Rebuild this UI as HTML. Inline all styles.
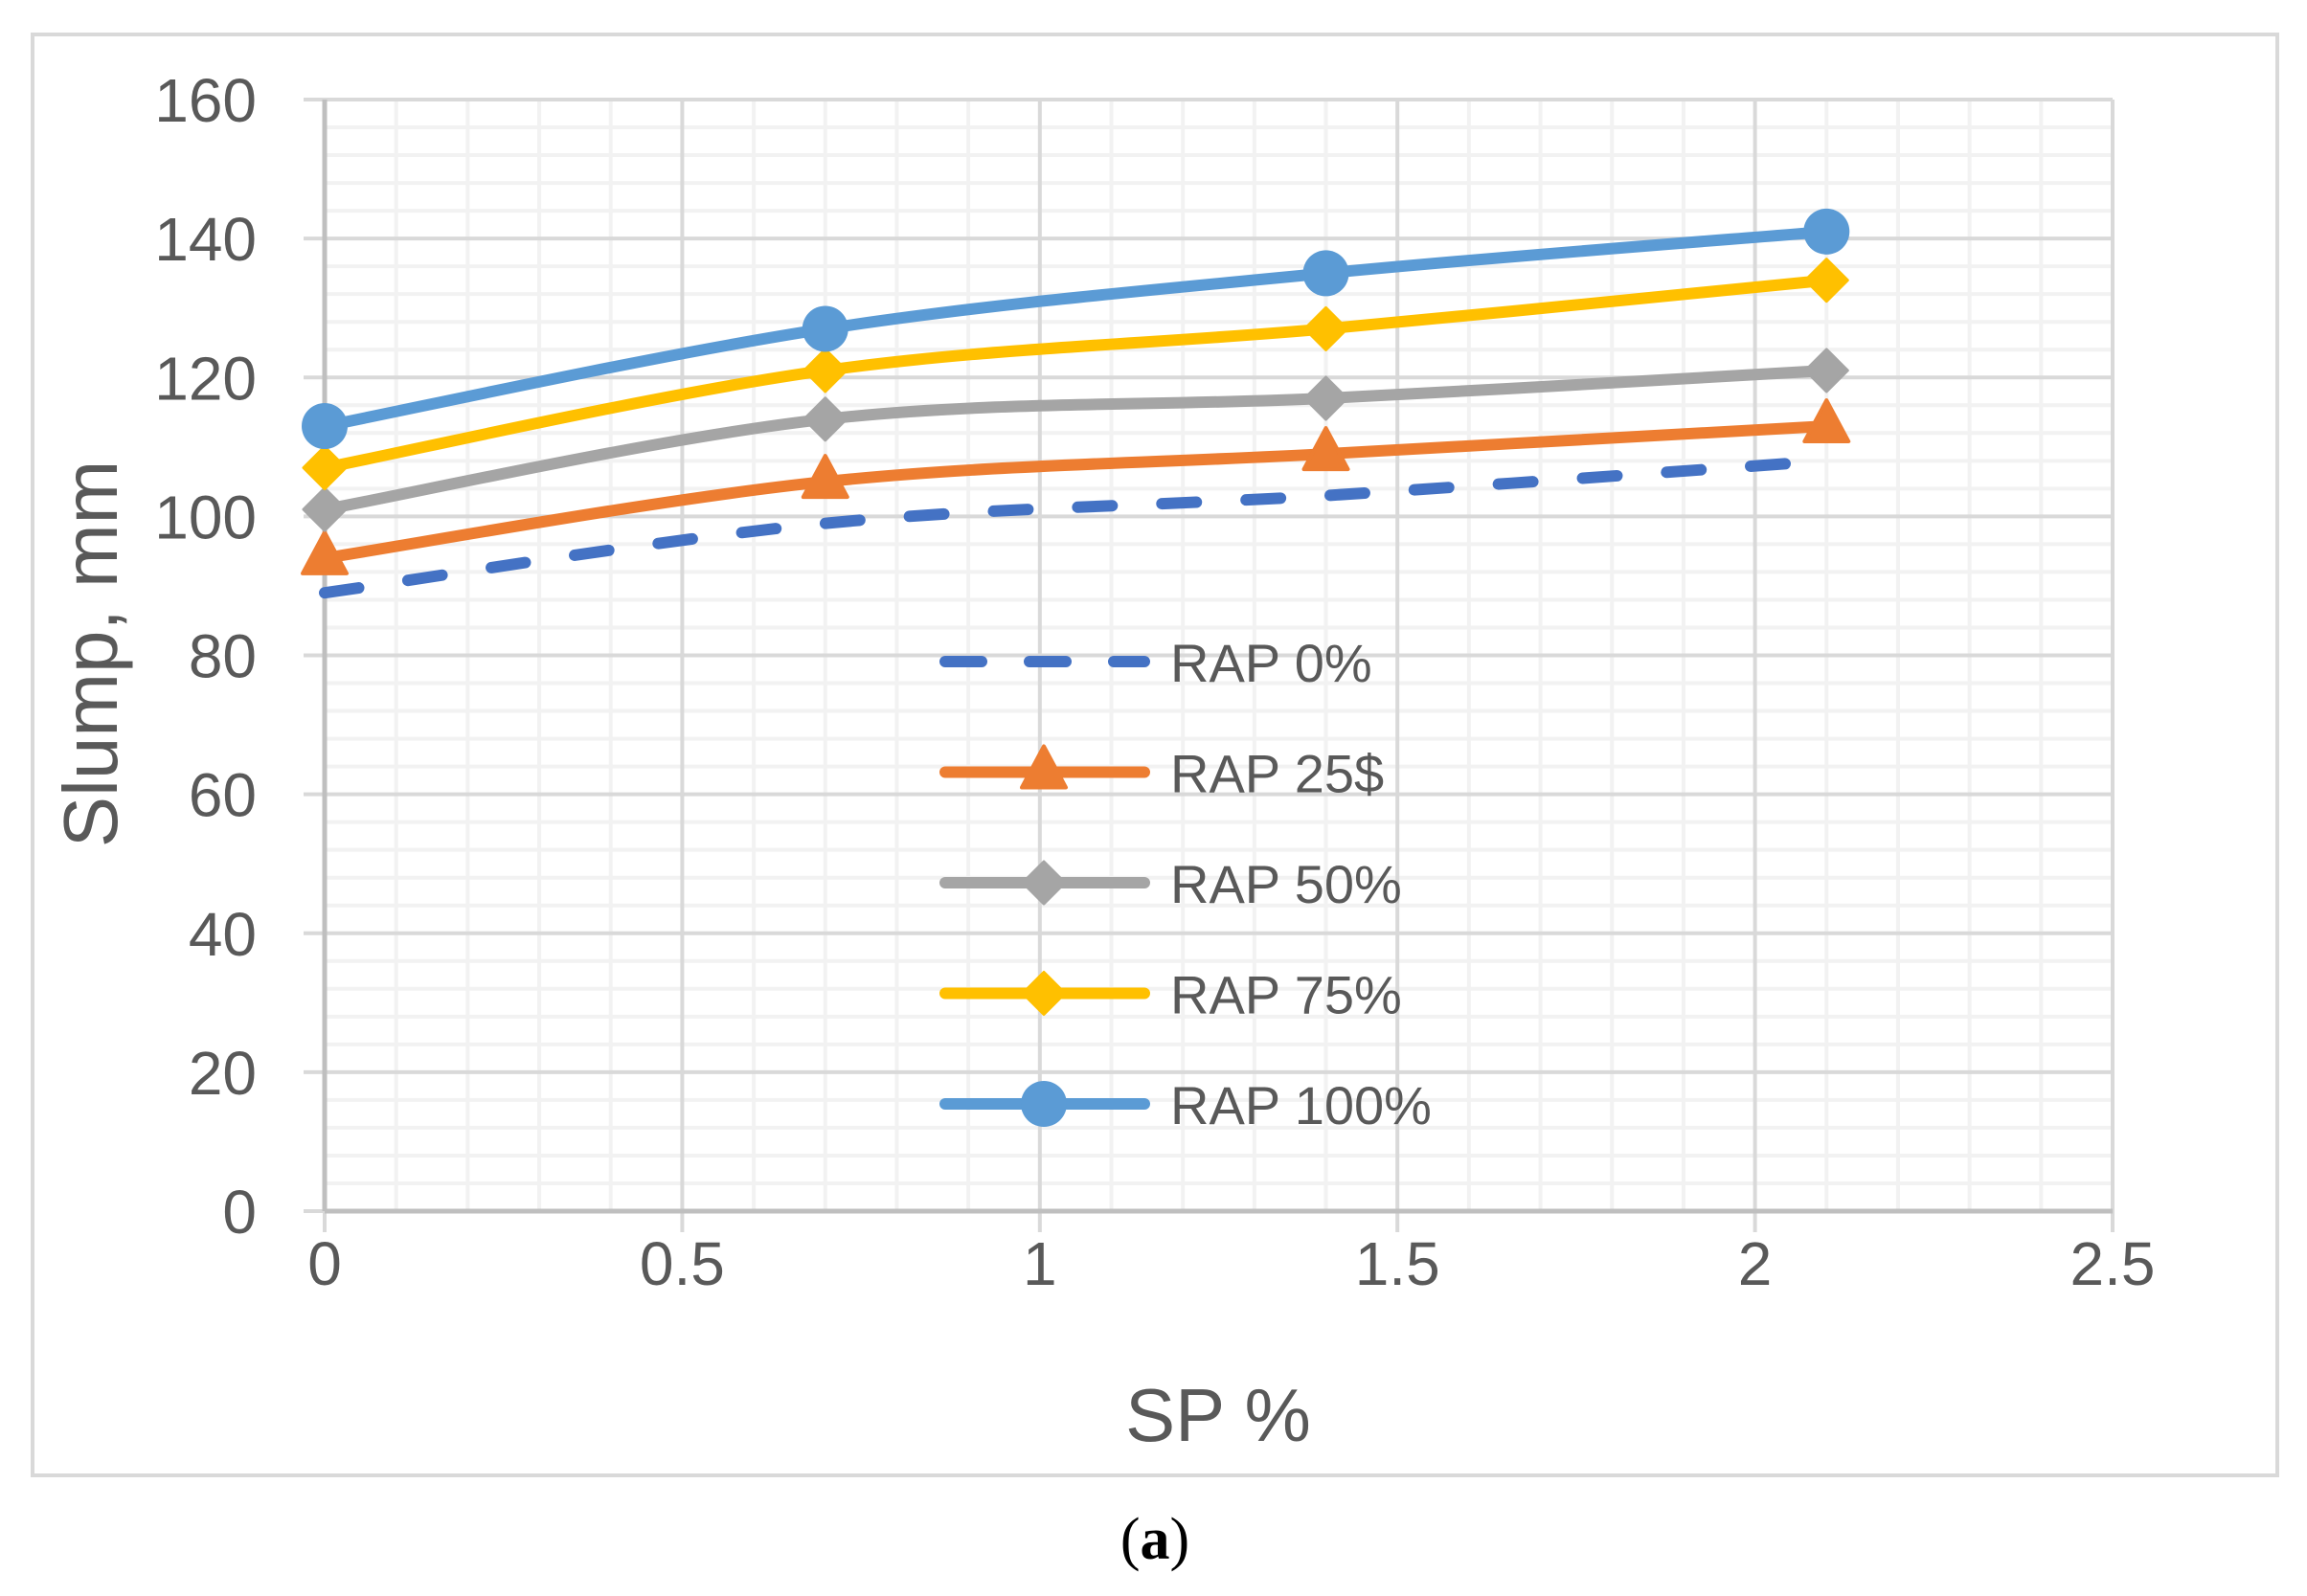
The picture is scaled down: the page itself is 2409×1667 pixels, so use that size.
<!DOCTYPE html>
<html><head><meta charset="utf-8"><style>
html,body{margin:0;padding:0;background:#fff;}
svg{display:block;font-family:"Liberation Sans",sans-serif;}
</style></head><body>
<svg id="chart" width="2409" height="1667" viewBox="0 0 2409 1667">
<rect x="34" y="36" width="2344" height="1505" fill="#fff" stroke="#d9d9d9" stroke-width="4"/>
<g id="grid"></g>
<g id="axes"></g>
<g id="series"></g>
<g id="legend"></g>
<text x="1272" y="1505" font-size="78" fill="#595959" text-anchor="middle">SP %</text>
<text transform="translate(122,683) rotate(-90)" font-size="80" fill="#595959" text-anchor="middle">Slump, mm</text>
<text x="1206" y="1628" font-size="62" fill="#000" text-anchor="middle" font-family="Liberation Serif, serif">(<tspan font-weight="bold">a</tspan>)</text>
</svg>
<script>
const xValues = [0, 0.7, 1.4, 2.1];
const seriesNames = ["RAP 0%", "RAP 25$", "RAP 50%", "RAP 75%", "RAP 100%"];
const rap0 = [89, 99, 103, 108];
const rap25 = [94, 105, 109, 113];
const rap50 = [101, 114, 117, 121];
const rap75 = [107, 121, 127, 134];
const rap100 = [113, 127, 135, 141];
const yTicks = [0, 20, 40, 60, 80, 100, 120, 140, 160];
const xTicks = [0, 0.5, 1, 1.5, 2, 2.5];

const NS = "http://www.w3.org/2000/svg";
const X0 = 339, X1 = 2206, Y0 = 1265, Y1 = 104;
const sx = v => X0 + (v - 0) / 2.5 * (X1 - X0);
const sy = v => Y0 - v / 160 * (Y0 - Y1);
function mk(tag, attrs, parent) { const e = document.createElementNS(NS, tag); for (const k in attrs) e.setAttribute(k, attrs[k]); parent.appendChild(e); return e; }
const grid = document.getElementById('grid'), axes = document.getElementById('axes'), ser = document.getElementById('series'), leg = document.getElementById('legend');

for (let i = 1; i < 40; i++) { if (i % 5 === 0) continue; const v = i * 4;
  const l = mk('line', {x1: X0, x2: X1, y1: sy(v), y2: sy(v), stroke: '#f2f2f2', 'stroke-width': 4}, grid);
  
   }
for (let i = 1; i < 25; i++) { if (i % 5 === 0) continue; const v = i * 0.1;
  const l = mk('line', {x1: sx(v), x2: sx(v), y1: Y1, y2: Y0, stroke: '#f2f2f2', 'stroke-width': 4}, grid);
  
   }
yTicks.forEach(v => {
  const l = mk('line', {x1: X0 - 22, x2: X1, y1: sy(v), y2: sy(v), stroke: '#d9d9d9', 'stroke-width': 4}, grid);
  
  
  const t = mk('text', {x: 268, y: sy(v) + 23, 'font-size': 64, fill: '#595959', 'text-anchor': 'end'}, axes);
  t.textContent = v;
  
  
});
xTicks.forEach(v => {
  const l = mk('line', {x1: sx(v), x2: sx(v), y1: Y1, y2: Y0 + 22, stroke: '#d9d9d9', 'stroke-width': 4}, grid);
  
  
  const t = mk('text', {x: sx(v), y: 1342, 'font-size': 64, fill: '#595959', 'text-anchor': 'middle'}, axes);
  t.textContent = v;
  
  
});
const ya = mk('line', {x1: X0, x2: X0, y1: Y1, y2: Y0, stroke: '#bfbfbf', 'stroke-width': 5}, axes);


const xa = mk('line', {x1: X0, x2: X1, y1: Y0, y2: Y0, stroke: '#bfbfbf', 'stroke-width': 5}, axes);



function smooth(pts) {
  let d = `M${pts[0][0]},${pts[0][1]}`;
  for (let i = 0; i < pts.length - 1; i++) {
    const p0 = pts[i - 1] || pts[i], p1 = pts[i], p2 = pts[i + 1], p3 = pts[i + 2] || p2;
    const t = 1 / 6;
    d += ` C${p1[0] + (p2[0] - p0[0]) * t},${p1[1] + (p2[1] - p0[1]) * t} ${p2[0] - (p3[0] - p1[0]) * t},${p2[1] - (p3[1] - p1[1]) * t} ${p2[0]},${p2[1]}`;
  }
  return d;
}
function marker(type, x, y, color, parent) {
  let e;
  if (type === 'tri') e = mk('path', {d: `M${x},${y - 27} L${x + 23},${y + 16} L${x - 23},${y + 16} Z`, fill: color, stroke: color, 'stroke-width': 4, 'stroke-linejoin': 'round'}, parent);
  else if (type === 'dia') e = mk('path', {d: `M${x},${y - 22} L${x + 22},${y} L${x},${y + 22} L${x - 22},${y} Z`, fill: color, stroke: color, 'stroke-width': 3, 'stroke-linejoin': 'round'}, parent);
  else e = mk('circle', {cx: x, cy: y, r: 24, fill: color}, parent);
  return e;
}
const allSeries = [
  {vals: rap0, color: '#4472c4', m: null, dash: true},
  {vals: rap25, color: '#ed7d31', m: 'tri'},
  {vals: rap50, color: '#a5a5a5', m: 'dia'},
  {vals: rap75, color: '#ffc000', m: 'dia'},
  {vals: rap100, color: '#5b9bd5', m: 'cir'}
];
allSeries.forEach((s, i) => {
  const g = mk('g', {}, ser);
  
  
  const pts = s.vals.map((v, j) => [sx(xValues[j]), sy(v)]);
  const p = mk('path', {d: smooth(pts), fill: 'none', stroke: s.color, 'stroke-width': 12, 'stroke-linecap': s.dash ? 'round' : 'butt'}, g);
  if (s.dash) p.setAttribute('stroke-dasharray', '36 52');
  
  
  if (s.m) pts.forEach(pt => {
    const mm = marker(s.m, pt[0], pt[1], s.color, g);
    
    
  });
  const ly = 691 + i * 115.5;
  const lg = mk('g', {}, leg);
  
  
  const ll = mk('line', {x1: 987, x2: 1195, y1: ly, y2: ly, stroke: s.color, 'stroke-width': 12, 'stroke-linecap': 'round'}, lg);
  if (s.dash) ll.setAttribute('stroke-dasharray', '38 50');
  
  
  if (s.m) { const lm = marker(s.m, 1090, ly, s.color, lg);
    
     }
  const lt = mk('text', {x: 1222, y: ly + 21, 'font-size': 56, fill: '#595959'}, lg);
  lt.textContent = seriesNames[i];
  
  
});
</script>
</body></html>
